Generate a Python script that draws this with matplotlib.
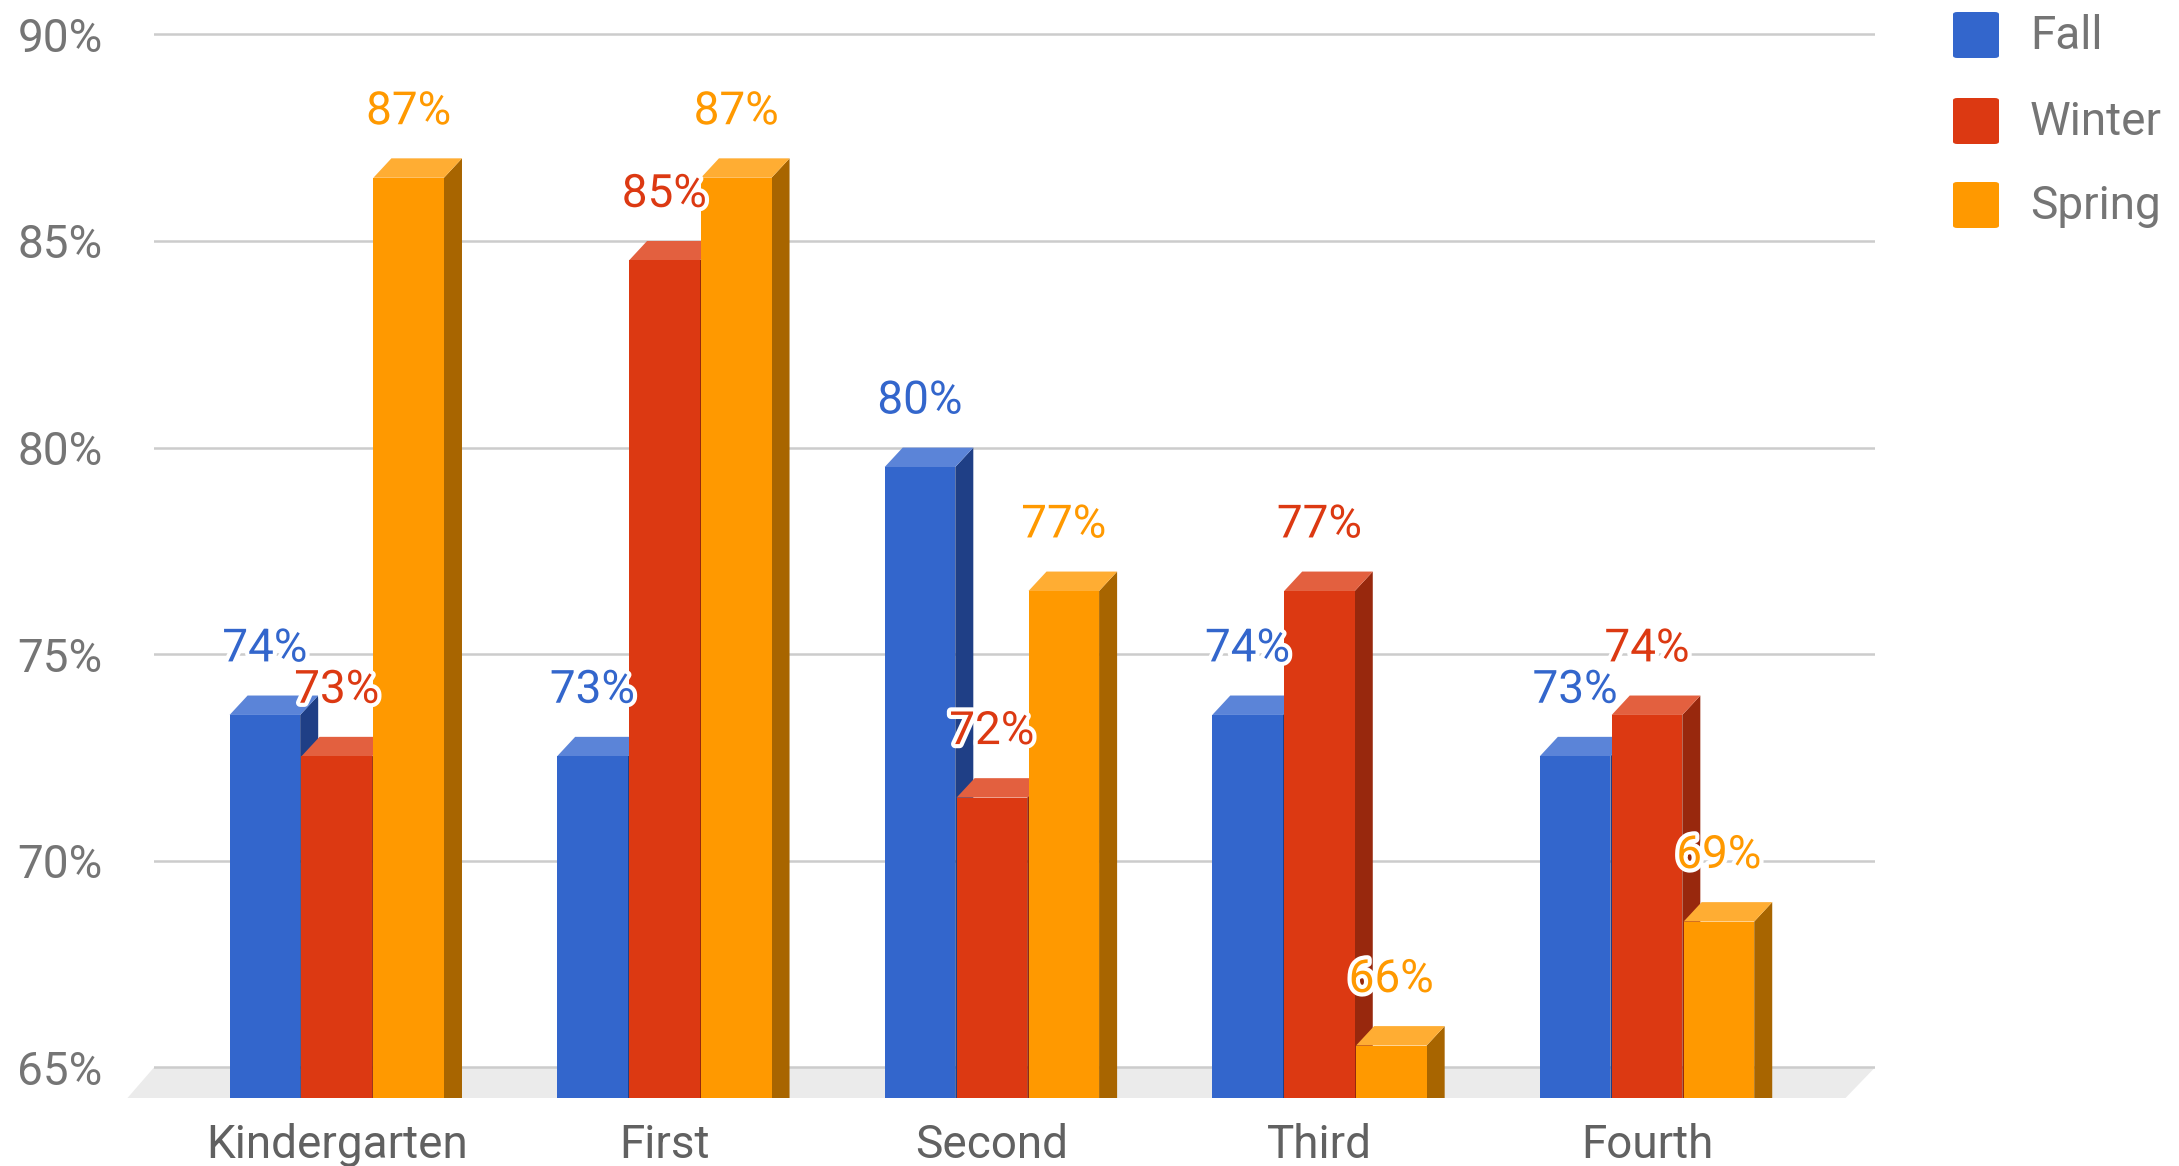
import matplotlib
matplotlib.use("Agg")
import matplotlib.pyplot as plt
import matplotlib.patheffects as pe
from matplotlib.patches import FancyBboxPatch

plt.rcParams['font.family'] = ['Roboto', 'DejaVu Sans']

grades = ['Kindergarten', 'First', 'Second', 'Third', 'Fourth']
seasons = ['Fall', 'Winter', 'Spring']
fall = [74, 73, 80, 74, 73]
winter = [73, 85, 72, 77, 74]
spring = [87, 87, 77, 66, 69]
ticks = [65, 70, 75, 80, 85, 90]
tick_labels = ['65%', '70%', '75%', '80%', '85%', '90%']

front = ['#3366cc', '#dc3912', '#ff9900']
top = ['#5b84d8', '#e3603f', '#ffad33']
side = ['#1f3f86', '#98280d', '#a86500']

W, H = 2179, 1166
fig = plt.figure(figsize=(W / 100, H / 100), dpi=100)

# plot box in pixels of the reference, y measured from the top
left, right, bottom, upper = 154, 1875, 1098, 29
ax = fig.add_axes([left / W, 1 - bottom / H, (right - left) / W, (bottom - upper) / H])
ax.set_xlim(-0.558, 4.696)
ax.set_ylim(64.26, 90.13)

bar_w = 0.2155
step = 0.2195
dx = 0.055   # depth of the 3d look, in x units
dy = 0.47    # same, in y units
floor = 64.26

# floor
ax.fill([-0.558, 4.696, 4.606, -0.639], [65, 65, floor, floor], color='#ebebeb', lw=0, clip_on=False, zorder=0.4)

for col, vals in enumerate([fall, winter, spring]):
    for i, v in enumerate(vals):
        x0 = i + (col - 1) * step - bar_w / 2
        x1 = x0 + bar_w
        z = 3 + col + i * 3
        ax.bar(x0, v - dy - floor, bar_w, bottom=floor, align='edge', color=front[col], zorder=z + 0.2)
        ax.fill([x1, x1 + dx, x1 + dx, x1], [floor, floor, v, v - dy], color=side[col], lw=0, zorder=z)
        ax.fill([x0, x1, x1 + dx, x0 + dx], [v - dy, v - dy, v, v], color=top[col], lw=0, zorder=z + 0.1)

halo = [pe.withStroke(linewidth=6, foreground='white')]
for col, vals in enumerate([fall, winter, spring]):
    for i, v in enumerate(vals):
        ax.text(i + (col - 1) * step, v + 1.14, f'{v}%', color=front[col], fontsize=33,
                ha='center', va='center', path_effects=halo, zorder=40)

ax.set_yticks(ticks)
ax.set_yticklabels(tick_labels)
ax.set_xticks(range(len(grades)))
ax.set_xticklabels(grades)
ax.tick_params(axis='y', length=0, pad=37, labelsize=33, labelcolor='#757575')
ax.tick_params(axis='x', length=0, pad=18, labelsize=33, labelcolor='#616161')
ax.yaxis.grid(True, color='#cccccc', lw=1.8)
ax.set_axisbelow(True)
for s in ax.spines.values():
    s.set_visible(False)
ax.patch.set_alpha(0)

# legend
legend_y = [35, 121, 205]
for name, color, y in zip(seasons, front, legend_y):
    fig.add_artist(FancyBboxPatch((1953 / W, 1 - (y + 23) / H), 46 / W, 46 / H,
                                  boxstyle='round,pad=0,rounding_size=0.002',
                                  transform=fig.transFigure, color=color, lw=0))
    fig.text(2030 / W, 1 - (y + 1) / H, name, color='#757575', fontsize=33, ha='left', va='center')

fig.savefig('out.png', dpi=100)
